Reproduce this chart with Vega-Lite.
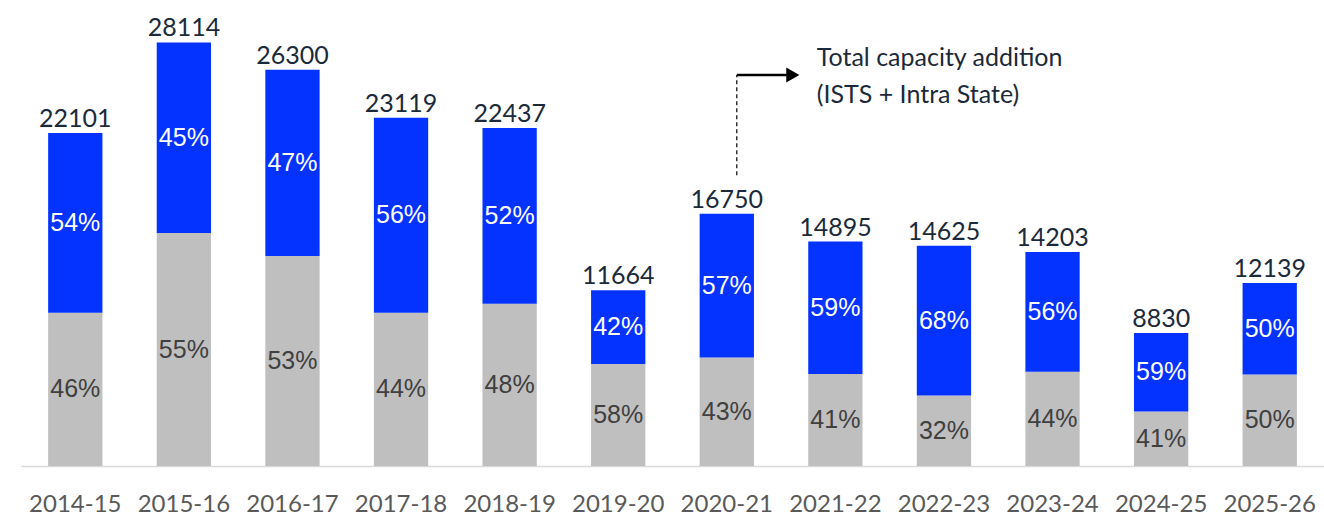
{
  "$schema": "https://vega.github.io/schema/vega-lite/v6.json",
  "width": 1303,
  "height": 452,
  "autosize": {"type": "none"},
  "padding": {"left": 21, "top": 14, "right": 0, "bottom": 50},
  "background": "white",
  "config": {"view": {"stroke": null}},
  "datasets": {
    "segs": [
      {"year": "2014-15", "type": "Intra State", "ord": 1, "value": 10166, "pct": "46%"},
      {"year": "2014-15", "type": "ISTS", "ord": 2, "value": 11935, "pct": "54%"},
      {"year": "2015-16", "type": "Intra State", "ord": 1, "value": 15463, "pct": "55%"},
      {"year": "2015-16", "type": "ISTS", "ord": 2, "value": 12651, "pct": "45%"},
      {"year": "2016-17", "type": "Intra State", "ord": 1, "value": 13939, "pct": "53%"},
      {"year": "2016-17", "type": "ISTS", "ord": 2, "value": 12361, "pct": "47%"},
      {"year": "2017-18", "type": "Intra State", "ord": 1, "value": 10172, "pct": "44%"},
      {"year": "2017-18", "type": "ISTS", "ord": 2, "value": 12947, "pct": "56%"},
      {"year": "2018-19", "type": "Intra State", "ord": 1, "value": 10770, "pct": "48%"},
      {"year": "2018-19", "type": "ISTS", "ord": 2, "value": 11667, "pct": "52%"},
      {"year": "2019-20", "type": "Intra State", "ord": 1, "value": 6765, "pct": "58%"},
      {"year": "2019-20", "type": "ISTS", "ord": 2, "value": 4899, "pct": "42%"},
      {"year": "2020-21", "type": "Intra State", "ord": 1, "value": 7203, "pct": "43%"},
      {"year": "2020-21", "type": "ISTS", "ord": 2, "value": 9547, "pct": "57%"},
      {"year": "2021-22", "type": "Intra State", "ord": 1, "value": 6107, "pct": "41%"},
      {"year": "2021-22", "type": "ISTS", "ord": 2, "value": 8788, "pct": "59%"},
      {"year": "2022-23", "type": "Intra State", "ord": 1, "value": 4680, "pct": "32%"},
      {"year": "2022-23", "type": "ISTS", "ord": 2, "value": 9945, "pct": "68%"},
      {"year": "2023-24", "type": "Intra State", "ord": 1, "value": 6249, "pct": "44%"},
      {"year": "2023-24", "type": "ISTS", "ord": 2, "value": 7954, "pct": "56%"},
      {"year": "2024-25", "type": "Intra State", "ord": 1, "value": 3620, "pct": "41%"},
      {"year": "2024-25", "type": "ISTS", "ord": 2, "value": 5210, "pct": "59%"},
      {"year": "2025-26", "type": "Intra State", "ord": 1, "value": 6070, "pct": "50%"},
      {"year": "2025-26", "type": "ISTS", "ord": 2, "value": 6069, "pct": "50%"}
    ],
    "totals": [
      {"year": "2014-15", "total": 22101},
      {"year": "2015-16", "total": 28114},
      {"year": "2016-17", "total": 26300},
      {"year": "2017-18", "total": 23119},
      {"year": "2018-19", "total": 22437},
      {"year": "2019-20", "total": 11664},
      {"year": "2020-21", "total": 16750},
      {"year": "2021-22", "total": 14895},
      {"year": "2022-23", "total": 14625},
      {"year": "2023-24", "total": 14203},
      {"year": "2024-25", "total": 8830},
      {"year": "2025-26", "total": 12139}
    ],
    "annot": [
      {"year": "2020-21", "y1": 19300, "y2": 25950}
    ],
    "annotText": [
      {"year": "2020-21", "y": 27079, "label": "Total capacity addition"},
      {"year": "2020-21", "y": 24624, "label": "(ISTS + Intra State)"}
    ]
  },
  "encoding": {
    "x": {
      "field": "year",
      "type": "ordinal",
      "title": null,
      "scale": {"paddingInner": 0.5, "paddingOuter": 0.25},
      "axis": {
        "labelAngle": 0,
        "labelFont": "Lato",
        "labelFontSize": 24,
        "labelColor": "#595959",
        "labelPadding": 26,
        "ticks": false,
        "domainColor": "#D9D9D9",
        "domainWidth": 1.5,
        "grid": false
      }
    }
  },
  "layer": [
    {
      "data": {"name": "segs"},
      "mark": {"type": "bar"},
      "encoding": {
        "y": {"field": "value", "type": "quantitative", "stack": "zero", "scale": {"domain": [0, 30000]}, "axis": null},
        "color": {"field": "type", "type": "nominal", "scale": {"domain": ["Intra State", "ISTS"], "range": ["#BFBFBF", "#0433FF"]}, "legend": null},
        "order": {"field": "ord", "type": "quantitative"}
      }
    },
    {
      "data": {"name": "segs"},
      "mark": {"type": "text", "font": "Liberation Sans", "fontSize": 25, "baseline": "middle", "align": "center"},
      "encoding": {
        "y": {"field": "value", "type": "quantitative", "stack": "zero", "bandPosition": 0.5},
        "order": {"field": "ord", "type": "quantitative"},
        "text": {"field": "pct", "type": "nominal"},
        "color": {"condition": {"test": "datum.type === 'ISTS'", "value": "#FFFFFF"}, "value": "#404040"}
      }
    },
    {
      "data": {"name": "totals"},
      "mark": {"type": "text", "font": "Lato", "fontSize": 25, "baseline": "alphabetic", "align": "center", "dy": -6, "color": "#1B2A3A"},
      "encoding": {
        "y": {"field": "total", "type": "quantitative"},
        "text": {"field": "total", "type": "quantitative", "format": "d"}
      }
    },
    {
      "data": {"name": "annot"},
      "mark": {"type": "rule", "color": "#000000", "strokeWidth": 1.2, "strokeDash": [4, 3], "xOffset": 10},
      "encoding": {
        "y": {"field": "y1", "type": "quantitative"},
        "y2": {"field": "y2"}
      }
    },
    {
      "data": {"name": "annot"},
      "mark": {"type": "rule", "color": "#000000", "strokeWidth": 2.7, "xOffset": 10, "x2Offset": 60},
      "encoding": {
        "x2": {"field": "year"},
        "y": {"field": "y2", "type": "quantitative"}
      }
    },
    {
      "data": {"name": "annot"},
      "mark": {"type": "point", "shape": "triangle-right", "filled": true, "color": "#000000", "opacity": 1, "size": 230, "xOffset": 66},
      "encoding": {
        "y": {"field": "y2", "type": "quantitative"}
      }
    },
    {
      "data": {"name": "annotText"},
      "mark": {"type": "text", "font": "Lato", "fontSize": 25, "letterSpacing": 2.1, "align": "left", "baseline": "middle", "xOffset": 90, "color": "#1B2A3A"},
      "encoding": {
        "y": {"field": "y", "type": "quantitative"},
        "text": {"field": "label", "type": "nominal"}
      }
    }
  ]
}
